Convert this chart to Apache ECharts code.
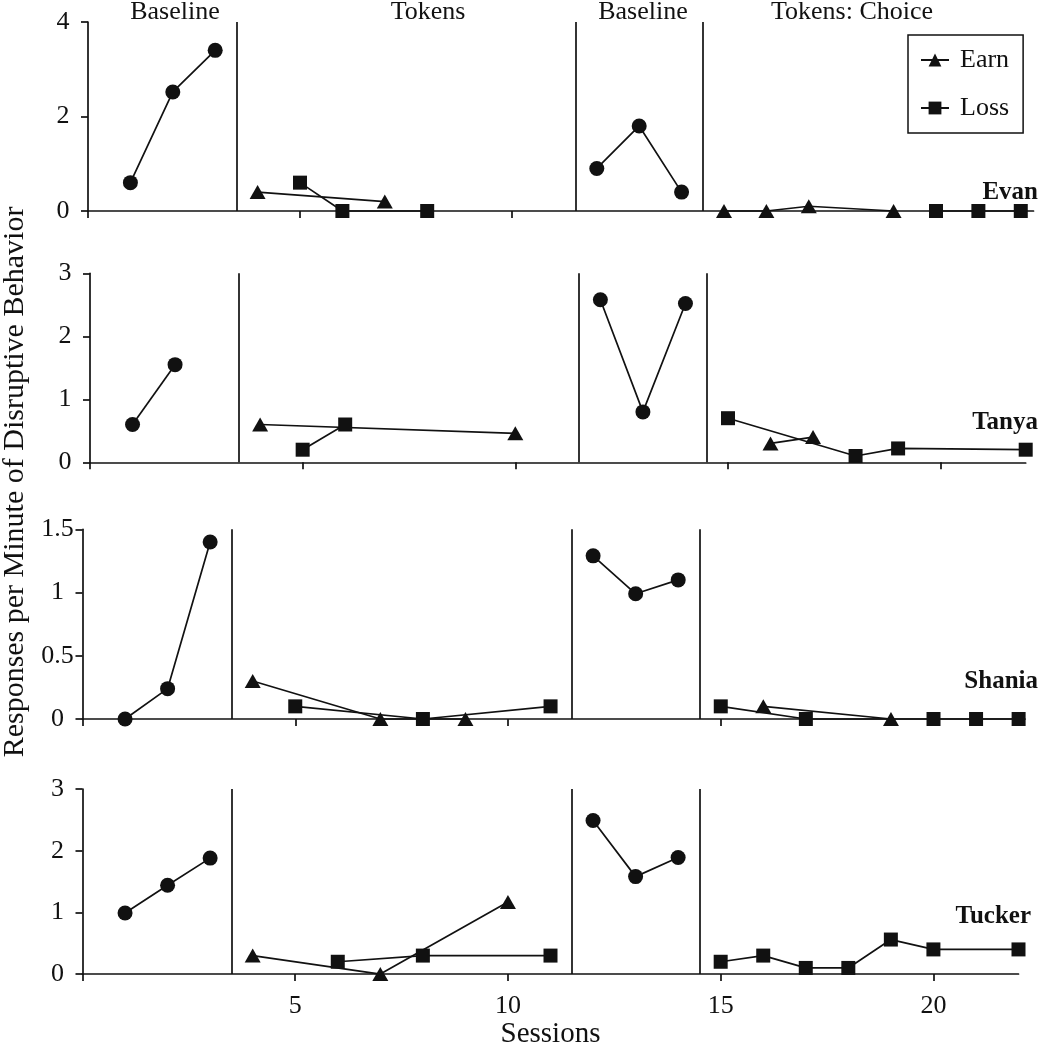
<!DOCTYPE html>
<html>
<head>
<meta charset="utf-8">
<script src="https://cdn.jsdelivr.net/npm/echarts@6/dist/echarts.min.js"></script>
<style>
html,body{margin:0;padding:0;background:#fff;}
#chart{width:1041px;height:1050px;}
</style>
</head>
<body>
<div id="chart"></div>
<script>
// ---- Data: [session, responses per minute] ----
const evanBaselineA = [[1,0.6],[2,2.52],[3,3.4]];
const evanEarnA = [[4,0.4],[7,0.2]];
const evanLossA = [[5,0.6],[6,0],[8,0]];
const evanBaselineB = [[12,0.9],[13,1.8],[14,0.4]];
const evanEarnB = [[15,0],[16,0],[17,0.1],[19,0]];
const evanLossB = [[20,0],[21,0],[22,0]];

const tanyaBaselineA = [[1,0.6],[2,1.55]];
const tanyaEarnA = [[4,0.6],[10,0.46]];
const tanyaLossA = [[5,0.2],[6,0.6]];
const tanyaBaselineB = [[12,2.58],[13,0.8],[14,2.52]];
const tanyaEarnB = [[16,0.3],[17,0.4]];
const tanyaLossB = [[15,0.7],[18,0.1],[19,0.22],[22,0.2]];

const shaniaBaselineA = [[1,0],[2,0.24],[3,1.4]];
const shaniaEarnA = [[4,0.3],[7,0],[9,0]];
const shaniaLossA = [[5,0.1],[8,0],[11,0.1]];
const shaniaBaselineB = [[12,1.29],[13,0.99],[14,1.1]];
const shaniaEarnB = [[16,0.1],[19,0]];
const shaniaLossB = [[15,0.1],[17,0],[20,0],[21,0],[22,0]];

const tuckerBaselineA = [[1,0.99],[2,1.44],[3,1.88]];
const tuckerEarnA = [[4,0.3],[7,0],[10,1.17]];
const tuckerLossA = [[6,0.2],[8,0.3],[11,0.3]];
const tuckerBaselineB = [[12,2.49],[13,1.58],[14,1.89]];
const tuckerEarnB = [];
const tuckerLossB = [[15,0.2],[16,0.3],[17,0.1],[18,0.1],[19,0.56],[20,0.4],[22,0.4]];

const participants = ['Evan','Tanya','Shania','Tucker'];
const yMax = [4, 3, 1.5, 3];
const yInterval = [2, 1, 0.5, 1];
const xMax = [22.3, 22, 22.15, 22];
const phaseChanges = [3.5, 11.5, 14.5];
const phaseLabels = ['Baseline','Tokens','Baseline','Tokens: Choice'];
const xTickValues = [0,5,10,15,20];
const xLabelValues = [5,10,15,20];
const legendNames = ['Earn','Loss'];
const yTitle = 'Responses per Minute of Disruptive Behavior';
const xTitle = 'Sessions';

const panelData = [
  [evanBaselineA, evanEarnA, evanLossA, evanBaselineB, evanEarnB, evanLossB],
  [tanyaBaselineA, tanyaEarnA, tanyaLossA, tanyaBaselineB, tanyaEarnB, tanyaLossB],
  [shaniaBaselineA, shaniaEarnA, shaniaLossA, shaniaBaselineB, shaniaEarnB, shaniaLossB],
  [tuckerBaselineA, tuckerEarnA, tuckerLossA, tuckerBaselineB, tuckerEarnB, tuckerLossB]
];

// ---- Layout ----
const FONT = '"Liberation Serif", "Times New Roman", serif';
const INK = '#111';
const LW = 1.7;
const grids = [
  {left: 88,   top: 22,    width: 945.5, height: 189},
  {left: 90,   top: 273.3, width: 935.7, height: 189},
  {left: 82.5, top: 529.3, width: 942.5, height: 189.7},
  {left: 82.5, top: 789,   width: 936,   height: 187.7}
];

const chart = echarts.init(document.getElementById('chart'), null, {renderer: 'canvas'});

const xAxes = [], yAxes = [], series = [];
grids.forEach((g, i) => {
  const last = i === grids.length - 1;
  xAxes.push({
    type: 'value', gridIndex: i, min: 0, max: xMax[i],
    axisLine: {show: true, onZero: false, lineStyle: {color: INK, width: LW}},
    axisTick: {show: true, inside: false, length: 7, customValues: xTickValues, lineStyle: {color: INK, width: LW}},
    axisLabel: {show: last, customValues: xLabelValues, margin: 19, fontFamily: FONT, fontSize: 26, color: INK},
    splitLine: {show: false},
    name: last ? xTitle : '', nameLocation: 'middle', nameGap: 38,
    nameTextStyle: {fontFamily: FONT, fontSize: 29, color: INK}
  });
  yAxes.push({
    type: 'value', gridIndex: i, min: 0, max: yMax[i], interval: yInterval[i],
    axisLine: {show: true, lineStyle: {color: INK, width: LW}},
    axisTick: {show: true, inside: false, length: 7, lineStyle: {color: INK, width: LW}},
    axisLabel: {margin: 25, align: 'center', fontFamily: FONT, fontSize: 26, color: INK},
    splitLine: {show: false}
  });
  const [bA, eA, lA, bB, eB, lB] = panelData[i];
  const common = {
    type: 'line', xAxisIndex: i, yAxisIndex: i, animation: false, silent: true,
    lineStyle: {color: INK, width: LW}, itemStyle: {color: INK},
    clip: false
  };
  const circle = {symbol: 'circle', symbolSize: 15};
  const tri = {symbol: 'triangle', symbolSize: [16, 14]};
  const sq = {symbol: 'rect', symbolSize: 14};
  series.push(Object.assign({}, common, circle, {name: 'Baseline', data: bA,
    markLine: {
      silent: true, symbol: 'none', animation: false,
      label: {show: false},
      lineStyle: {color: INK, width: LW, type: 'solid'},
      data: phaseChanges.map(v => ({xAxis: v}))
    }}));
  series.push(Object.assign({}, common, tri, {name: 'Earn', data: eA}));
  series.push(Object.assign({}, common, sq, {name: 'Loss', data: lA}));
  series.push(Object.assign({}, common, circle, {name: 'Baseline', data: bB}));
  series.push(Object.assign({}, common, tri, {name: 'Earn', data: eB}));
  series.push(Object.assign({}, common, sq, {name: 'Loss', data: lB}));
});

// ---- Text annotations ----
const graphics = [];
const phaseLabelX = [175, 428, 643, 852];
phaseLabels.forEach((t, k) => {
  graphics.push({type: 'text', x: phaseLabelX[k], y: 12,
    style: {text: t, fontFamily: FONT, fontSize: 26, fill: INK, textAlign: 'center', textVerticalAlign: 'middle'}});
});
const nameRight = [1038, 1038, 1038, 1031];
const nameY = [193, 423, 682, 917];
participants.forEach((p, k) => {
  graphics.push({type: 'text', x: nameRight[k], y: nameY[k],
    style: {text: p, fontFamily: FONT, fontSize: 25, fontWeight: 'bold', fill: INK, textAlign: 'right', textVerticalAlign: 'middle'}});
});
graphics.push({type: 'text', x: 15, y: 482, rotation: Math.PI / 2,
  style: {text: yTitle, fontFamily: FONT, fontSize: 30, fill: INK, textAlign: 'center', textVerticalAlign: 'middle'}});

chart.setOption({
  animation: false,
  backgroundColor: '#fff',
  grid: grids.map(g => Object.assign({containLabel: false}, g)),
  xAxis: xAxes,
  yAxis: yAxes,
  legend: {
    data: legendNames,
    orient: 'vertical',
    left: 908, top: 35,
    itemWidth: 28, itemHeight: 16, itemGap: 22,
    padding: [12, 14, 12, 12],
    borderColor: INK, borderWidth: 1.5,
    textStyle: {fontFamily: FONT, fontSize: 26, color: INK, padding: [0, 0, 0, 6]},
    selectedMode: false
  },
  series: series,
  graphic: graphics
});
</script>
</body>
</html>
